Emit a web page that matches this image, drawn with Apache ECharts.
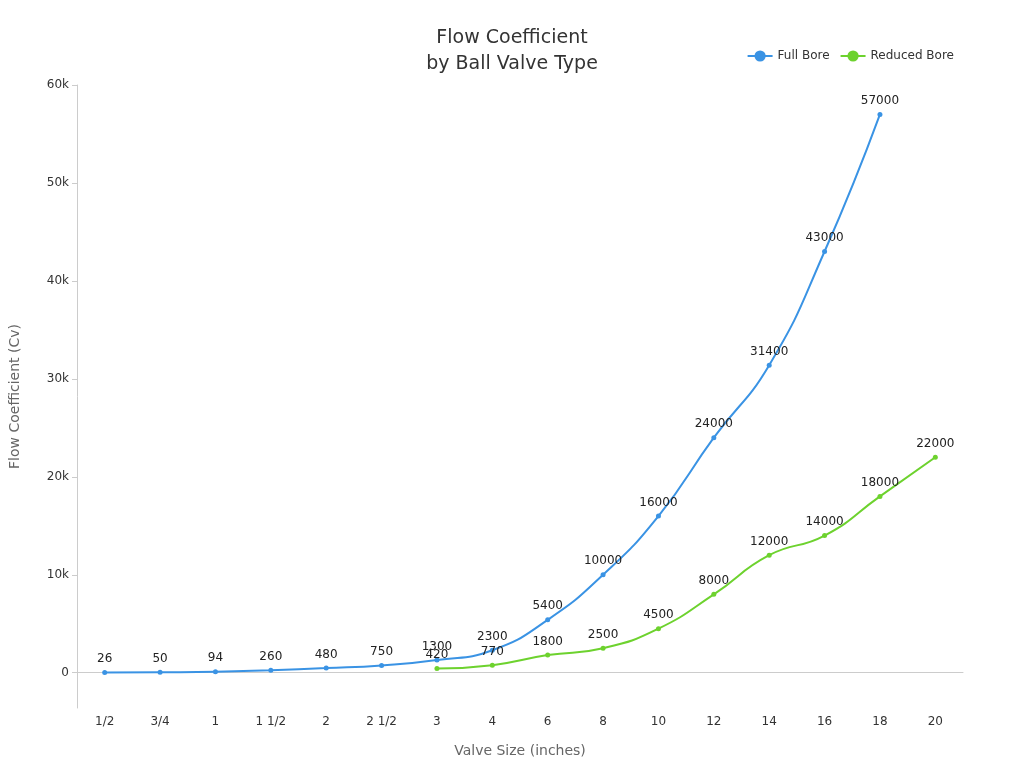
<!DOCTYPE html>
<html><head><meta charset="utf-8">
<script src="https://cdn.jsdelivr.net/npm/echarts@6/dist/echarts.min.js"></script>
<style>html,body{margin:0;padding:0}#chart{width:1024px;height:768px}</style>
</head><body><div id="chart"></div>
<script>
// valve sizes and Cv values
const sizes = ['1/2','3/4','1','1 1/2','2','2 1/2','3','4','6','8','10','12','14','16','18','20'];
const fullBore = [26,50,94,260,480,750,1300,2300,5400,10000,16000,24000,31400,43000,57000,null];
const reducedBore = [null,null,null,null,null,null,420,770,1800,2500,4500,8000,12000,14000,18000,22000];
const yTicks = [0,10000,20000,30000,40000,50000,60000];

const chart = echarts.init(document.getElementById('chart'));
const font = 'DejaVu Sans';
chart.setOption({
    textStyle: {fontFamily: font},
    title: {
        text: 'Flow Coefficient\nby Ball Valve Type',
        left: 'center', top: 20,
        textStyle: {fontSize: 19, fontWeight: 'normal', color: '#333', lineHeight: 26, fontFamily: font}
    },
    legend: {
        top: 45, right: 65, itemGap: 10,
        textStyle: {fontSize: 12, color: '#333'},
        data: ['Full Bore', 'Reduced Bore']
    },
    grid: {left: 67, right: 61, top: 85, bottom: 60},
    xAxis: {
        type: 'category', data: sizes,
        name: 'Valve Size (inches)', nameLocation: 'middle', nameGap: 36,
        nameTextStyle: {fontSize: 14, color: '#666'},
        axisLine: {lineStyle: {color: '#ccc'}},
        axisTick: {alignWithLabel: true, lineStyle: {color: '#ccc'}},
        axisLabel: {color: '#333', fontSize: 12}
    },
    yAxis: {
        type: 'value', min: -3600, max: 60000,
        name: 'Flow Coefficient (Cv)', nameLocation: 'middle', nameGap: 55,
        nameTextStyle: {fontSize: 14, color: '#666'},
        axisLine: {show: true, lineStyle: {color: '#ccc'}},
        axisTick: {show: true, customValues: yTicks, lineStyle: {color: '#ccc'}},
        axisLabel: {customValues: yTicks, color: '#333', fontSize: 12,
            formatter: v => v === 0 ? '0' : (v / 1000) + 'k'},
        splitLine: {show: false}
    },
    series: [
        {name: 'Full Bore', type: 'line', smooth: true, data: fullBore,
            color: '#3a93e4', symbol: 'circle', symbolSize: 5, lineStyle: {width: 2},
            label: {show: true, position: 'top', color: '#222', fontSize: 12}},
        {name: 'Reduced Bore', type: 'line', smooth: true, data: reducedBore,
            color: '#6dd22e', symbol: 'circle', symbolSize: 5, lineStyle: {width: 2},
            label: {show: true, position: 'top', color: '#222', fontSize: 12}}
    ]
});
</script></body></html>
